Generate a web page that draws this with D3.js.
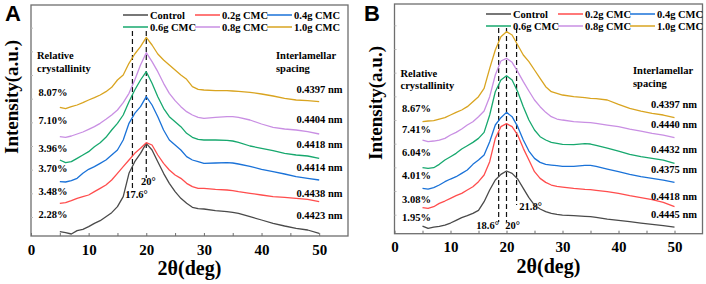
<!DOCTYPE html>
<html>
<head>
<meta charset="utf-8">
<script src="https://cdn.jsdelivr.net/npm/d3@7"></script>
<style>
  body { margin: 0; background: #fff; }
  svg { display: block; }
</style>
</head>
<body>
<div id="chart"></div>
<script>
// 2theta sampling (deg), shared by every curve
const deg = [5,6,7,8,9,10,11,12,13,14,15,16,17,18,19,20,21,22,23,24,25,26,27,28,29,30,32,34,35,36,38,40,42,44,46,48,50];

const seriesNames = ["Control", "0.2g CMC", "0.4g CMC", "0.6g CMC", "0.8g CMC", "1.0g CMC"];

// panel A intensities (a.u., stacked as in the figure)
const controlA = [13,10,6,16,20,28,38,46,58,70,88,118,188,223,248,278,258,223,188,158,133,113,98,86,82,81,76,73,71,68,58,48,38,30,23,18,8];
const cmc02A = [98,100,106,113,118,123,133,143,153,168,188,208,228,248,263,280,273,243,218,198,183,173,158,148,143,143,140,138,136,133,128,123,118,116,113,110,103];
const cmc04A = [163,162,166,173,188,200,208,218,228,243,258,288,338,368,388,418,393,358,318,288,273,258,238,228,223,218,219,220,219,216,209,200,193,186,178,173,168];
const cmc06A = [228,220,223,233,243,253,268,280,296,318,338,363,403,438,468,493,458,418,383,358,343,328,308,296,290,288,288,287,285,281,270,263,256,248,243,240,233];
const cmc08A = [298,296,300,306,312,320,328,338,350,363,378,400,428,468,513,550,523,493,458,428,406,388,373,363,356,353,356,358,358,356,348,336,326,321,318,313,306];
const cmc10A = [386,382,388,393,400,408,415,423,433,446,468,483,518,546,568,596,573,546,528,513,498,483,470,448,440,438,436,436,435,434,431,426,420,413,408,406,403];

// panel B intensities
const controlB = [23,16,20,22,26,32,40,48,54,61,70,96,131,161,178,188,181,164,136,108,86,74,66,61,58,56,54,52,51,49,44,40,36,32,28,24,20];
const cmc02B = [78,76,81,91,98,106,114,121,131,141,156,176,216,286,321,330,321,296,256,221,186,166,154,146,142,140,136,133,132,130,126,121,114,108,102,94,81];
const cmc04B = [136,134,138,146,156,164,171,181,191,208,221,236,276,326,348,364,351,321,281,248,226,214,208,206,204,202,202,205,205,202,194,186,178,171,166,161,154];
const cmc06B = [198,196,198,208,221,231,241,254,264,274,286,304,356,426,461,474,461,426,381,341,311,291,281,274,271,268,267,270,269,265,257,248,238,231,226,221,211];
const cmc08B = [281,276,278,281,286,296,304,314,326,336,351,368,411,476,518,526,514,486,456,428,401,381,364,351,344,341,336,334,333,331,326,321,314,308,301,296,288];
const cmc10B = [336,338,339,344,348,356,364,371,381,396,411,436,496,551,591,606,596,566,536,516,491,466,441,426,421,416,411,408,406,405,401,388,376,368,361,356,348];

// side labels, bottom curve first
const crystA = ["2.28%", "3.48%", "3.70%", "3.96%", "7.10%", "8.07%"];
const spacingA = ["0.4423 nm", "0.4438 nm", "0.4414 nm", "0.4418 nm", "0.4404 nm", "0.4397 nm"];
const crystB = ["1.95%", "3.08%", "4.01%", "6.04%", "7.41%", "8.67%"];
const spacingB = ["0.4445 nm", "0.4418 nm", "0.4375 nm", "0.4432 nm", "0.4440 nm", "0.4397 nm"];

// dashed peak markers (deg)
const peaksA = [17.6, 20];
const peaksB = [18.6, 20, 21.8];

const colors = ["#4a4a4a", "#ff4d4d", "#1a72d8", "#17a86e", "#c98fe3", "#d9a420"];
const serif = "'Liberation Serif', 'Times New Roman', serif";

const svg = d3.select("#chart").append("svg")
  .attr("width", 706)
  .attr("height", 284);

function drawPanel(p) {
  const g = svg.append("g");

  const x = d3.scaleLinear().domain([0, 55]).range([p.left, p.right]);
  const y = d3.scaleLinear().domain([0, p.ymax]).range([p.bottom, p.top]);

  // frame
  g.append("rect")
    .attr("x", p.left).attr("y", p.top)
    .attr("width", p.right - p.left).attr("height", p.bottom - p.top)
    .attr("fill", "none").attr("stroke", "#6e6e6e").attr("stroke-width", 1.3);

  // x axis, ticks pointing in
  const xAxis = g.append("g")
    .attr("transform", `translate(0,${p.bottom})`)
    .call(d3.axisBottom(x).tickValues(d3.range(0, 55, 5)).tickSize(-3).tickPadding(8)
      .tickFormat(d => d % 10 === 0 ? d : ""));
  xAxis.select(".domain").remove();
  xAxis.selectAll("line").attr("stroke", "#6e6e6e");
  xAxis.selectAll("text")
    .attr("font-family", serif).attr("font-weight", "bold")
    .attr("font-size", "15px").attr("fill", "#000");

  // y axis: unlabeled inward ticks
  const yAxis = g.append("g")
    .attr("transform", `translate(${p.left},0)`)
    .call(d3.axisLeft(y).tickValues(d3.range(57, p.ymax - 60, 71)).tickSize(-2).tickFormat(""));
  yAxis.select(".domain").remove();
  yAxis.selectAll("line").attr("stroke", "#bbb");

  // axis titles
  g.append("text")
    .attr("x", (p.left + p.right) / 2).attr("y", p.bottom + 39)
    .attr("text-anchor", "middle")
    .attr("font-family", serif).attr("font-weight", "bold").attr("font-size", "20px")
    .text("2θ(deg)");
  g.append("text")
    .attr("transform", `translate(${p.left - 13},${p.yTitle}) rotate(-90)`)
    .attr("text-anchor", "middle")
    .attr("font-family", serif).attr("font-weight", "bold").attr("font-size", "19px")
    .text("Intensity(a.u.)");

  // panel letter
  g.append("text")
    .attr("x", p.letterX).attr("y", 21)
    .attr("font-family", "'Liberation Sans', Arial, sans-serif").attr("font-weight", "bold")
    .attr("font-size", "22px")
    .text(p.letter);

  // dashed peak lines
  g.selectAll(".peak")
    .data(p.peaks)
    .join("line")
    .attr("x1", d => x(d)).attr("x2", d => x(d))
    .attr("y1", p.dashTop)
    .attr("y2", (d, i) => p.dashEnd[i])
    .attr("stroke", "#111").attr("stroke-width", 1.2)
    .attr("stroke-dasharray", "5,3");

  g.selectAll(".peaklab")
    .data(p.peaks)
    .join("text")
    .attr("x", (d, i) => x(d) + p.peakDx[i])
    .attr("y", (d, i) => p.peakY[i])
    .attr("text-anchor", "middle")
    .attr("font-family", serif).attr("font-weight", "bold").attr("font-size", "10.5px")
    .text(d => d + "°");

  // curves
  const line = d3.line()
    .x((d, i) => x(deg[i]))
    .y(d => y(d));

  g.selectAll(".curve")
    .data(p.series)
    .join("path")
    .attr("d", d => line(d))
    .attr("fill", "none")
    .attr("stroke", (d, i) => colors[i])
    .attr("stroke-width", 1.3)
    .attr("stroke-linejoin", "round");

  // legend: 3 columns x 2 rows
  const leg = g.selectAll(".leg")
    .data(seriesNames)
    .join("g")
    .attr("transform", (d, i) =>
      `translate(${p.legX + (i % 3) * 72},${p.legY + Math.floor(i / 3) * 12})`);
  leg.append("line")
    .attr("x1", 0).attr("x2", 25).attr("y1", 0).attr("y2", 0)
    .attr("stroke", (d, i) => colors[i]).attr("stroke-width", 1.5);
  leg.append("text")
    .attr("x", 27).attr("y", 3.6)
    .attr("font-family", serif).attr("font-weight", "bold").attr("font-size", "10.5px")
    .text(d => d);

  // side annotations
  const ann = (tx, ty, anchor, str) => g.append("text")
    .attr("x", tx).attr("y", ty).attr("text-anchor", anchor)
    .attr("font-family", serif).attr("font-weight", "bold").attr("font-size", "10.5px")
    .text(str);

  ann(p.left + 6, p.headY[0], "start", "Relative");
  ann(p.left + 6, p.headY[1], "start", "crystallinity");
  ann(p.rightHeadX, p.headY[2], "start", "Interlamellar");
  ann(p.rightHeadX, p.headY[3], "start", "spacing");

  p.cryst.forEach((s, i) => ann(p.left + 7.5, p.crystY[i], "start", s));
  p.spacing.forEach((s, i) => ann(p.right - 5.5, p.spacingY[i], "end", s));
}

drawPanel({
  letter: "A", letterX: 5,
  left: 31, right: 348, top: 5, bottom: 236, ymax: 693,
  yTitle: 97,
  series: [controlA, cmc02A, cmc04A, cmc06A, cmc08A, cmc10A],
  peaks: peaksA, dashTop: 31, dashEnd: [190, 178],
  peakDx: [4, 2], peakY: [198, 185],
  legX: 123, legY: 15,
  headY: [59, 72, 59, 72], rightHeadX: 276,
  cryst: crystA, crystY: [218, 195, 172, 152, 124, 96],
  spacing: spacingA, spacingY: [219, 197, 171, 148, 123, 93]
});

drawPanel({
  letter: "B", letterX: 364,
  left: 394.5, right: 702.5, top: 4, bottom: 233.7, ymax: 689,
  yTitle: 103,
  series: [controlB, cmc02B, cmc04B, cmc06B, cmc08B, cmc10B],
  peaks: peaksB, dashTop: 28, dashEnd: [222, 222, 205],
  peakDx: [-11, 6, 14], peakY: [229, 229, 210],
  legX: 486, legY: 14,
  headY: [77, 89, 74, 87], rightHeadX: 633,
  cryst: crystB, crystY: [221, 203, 179, 156, 133, 112],
  spacing: spacingB, spacingY: [218, 200, 173, 153, 128, 108]
});
</script>
</body>
</html>
